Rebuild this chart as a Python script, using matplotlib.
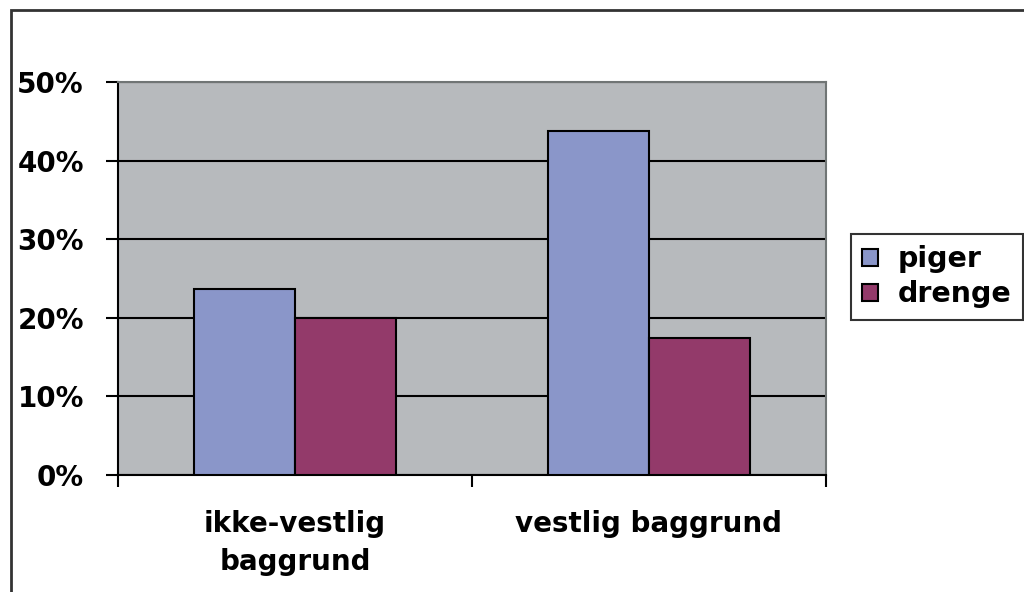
import numpy as np
import matplotlib
matplotlib.use('Agg')
import matplotlib.pyplot as plt
from matplotlib.patches import Rectangle

kategorier = ['ikke-vestlig\nbaggrund', 'vestlig baggrund']
piger = [23.7, 43.8]
drenge = [20.0, 17.4]
yticks = [0, 10, 20, 30, 40, 50]

plt.rcParams['font.family'] = 'DejaVu Sans'
plt.rcParams['font.weight'] = 'bold'

fig = plt.figure(figsize=(10.24, 5.92), dpi=100)
ax = fig.add_axes([0.1152, 0.1976, 0.6914, 0.6639])
ax.set_facecolor('#b7babd')

x = np.arange(len(kategorier))
w = 0.2857
ax.bar(x - w / 2, piger, w, color='#8a96c9', edgecolor='black', linewidth=1.5, label='piger', zorder=3)
ax.bar(x + w / 2, drenge, w, color='#933a6a', edgecolor='black', linewidth=1.5, label='drenge', zorder=3)

ax.set_xlim(-0.5, 1.5)
ax.set_ylim(0, 50)
ax.set_yticks(yticks)
ax.set_yticklabels(['{}%'.format(t) for t in yticks], fontsize=20, fontweight='bold')
ax.yaxis.grid(True, color='black', linewidth=1.5, zorder=1)
ax.set_axisbelow(True)

ax.set_xticks(x)
ax.set_xticklabels(kategorier, fontsize=20, fontweight='bold', linespacing=1.45)
ax.set_xticks([-0.5, 0.5, 1.5], minor=True)
ax.tick_params(axis='x', which='major', length=0, pad=25)
ax.tick_params(axis='x', which='minor', length=8.6, width=1.5, direction='out')
ax.tick_params(axis='y', length=8.6, width=1.5, direction='out', pad=16)

ax.spines['left'].set_linewidth(1.5)
ax.spines['bottom'].set_linewidth(1.5)
ax.spines['top'].set_color('#707575')
ax.spines['right'].set_color('#707575')
ax.spines['top'].set_linewidth(1.5)
ax.spines['right'].set_linewidth(1.5)

leg = fig.legend(loc='upper left', bbox_to_anchor=(0.831, 0.605), borderaxespad=0,
                 prop={'size': 20.5, 'weight': 'bold'}, frameon=True, fancybox=False,
                 handlelength=0.55, handleheight=0.55, handletextpad=0.7,
                 borderpad=0.4, labelspacing=0.25)
leg.get_frame().set_edgecolor('black')
leg.get_frame().set_linewidth(1.5)

# ramme om hele diagrammet
fig.patches.append(Rectangle((11 / 1024, -0.1), 1.2, (592 - 10) / 592 + 0.1,
                             transform=fig.transFigure, fill=False,
                             edgecolor='#333333', linewidth=2))

fig.savefig('out.png', dpi=100)
